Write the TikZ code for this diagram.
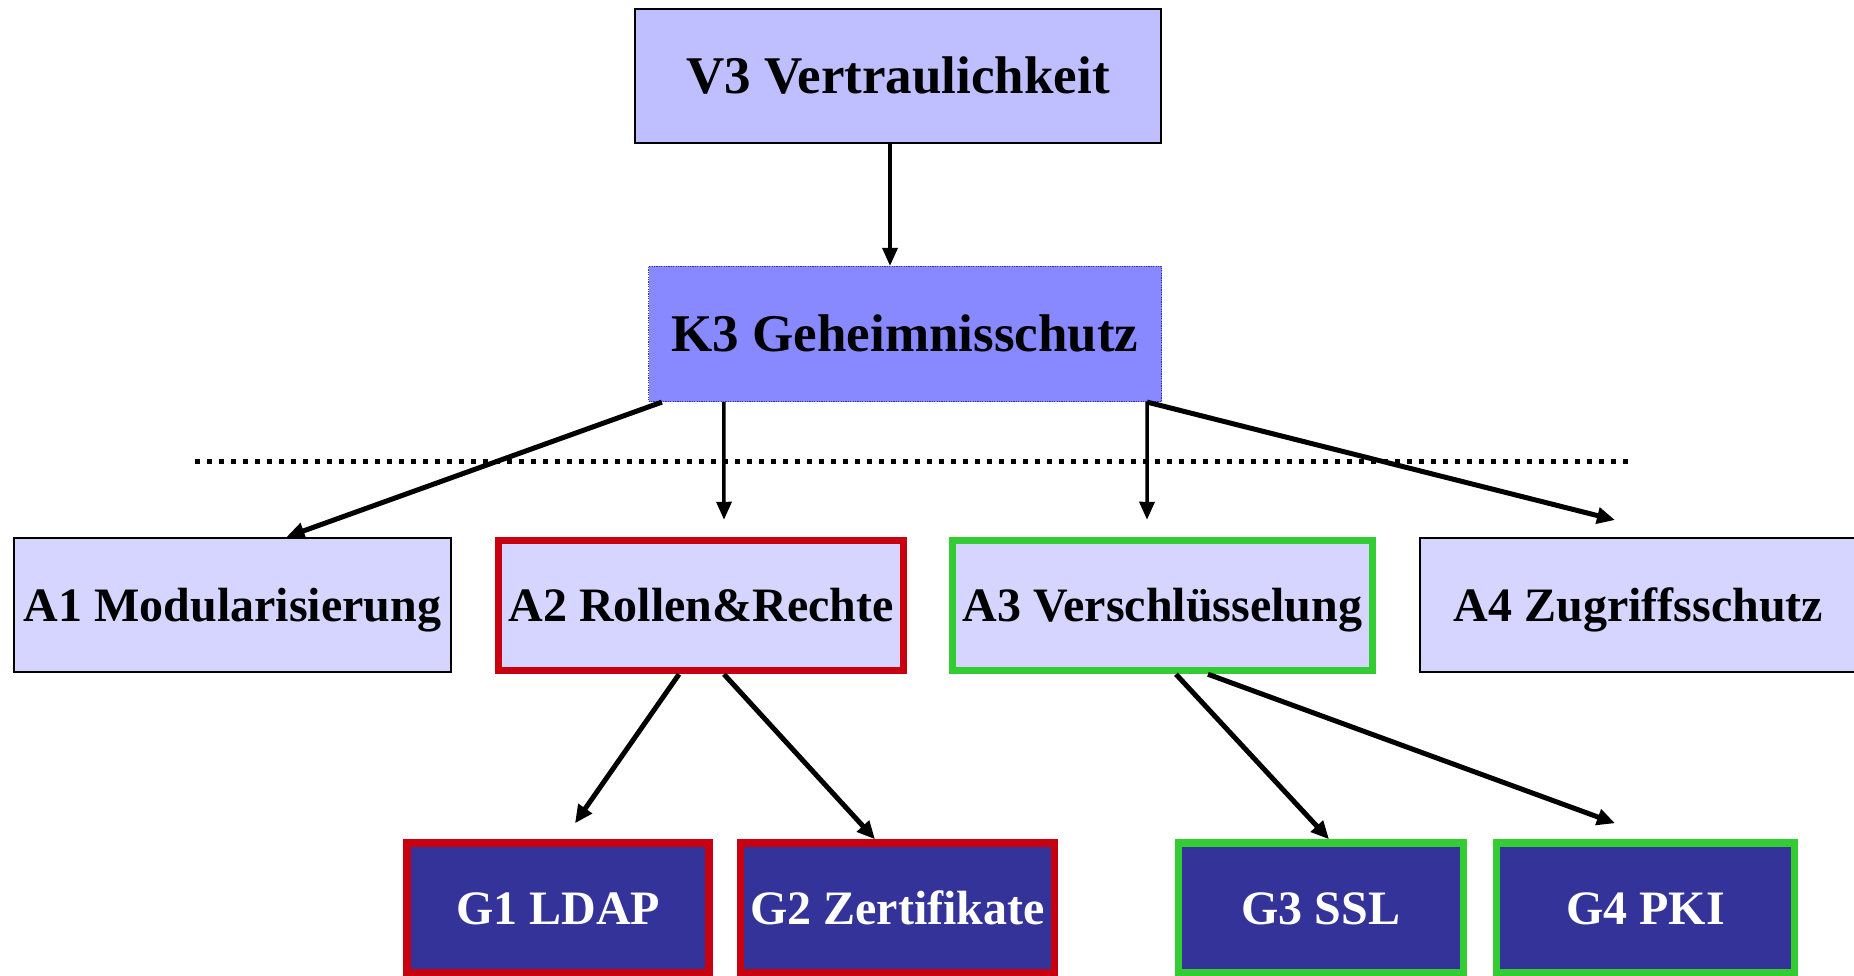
\documentclass[tikz,border=0pt]{standalone}
\usepackage{fontspec}
\setmainfont{Liberation Serif}
\usetikzlibrary{arrows.meta}

\definecolor{boxtop}{HTML}{BFBFFF}
\definecolor{boxmid}{HTML}{8888FF}
\definecolor{boxlight}{HTML}{D5D5FF}
\definecolor{boxdark}{HTML}{333399}
\definecolor{rimred}{HTML}{C8000F}
\definecolor{rimgreen}{HTML}{33CC33}

\begin{document}
\begin{tikzpicture}[x=1pt,y=-1pt,
  box/.style={rectangle, inner sep=0pt, align=center,
    font=\fontsize{48}{50}\selectfont\bfseries, text height=32pt, text depth=0pt},
  bigbox/.style={box, font=\fontsize{53}{55}\selectfont\bfseries, text height=35pt},
  plainbox/.style={box, fill=boxlight, draw=black, line width=2pt,
    minimum width=437pt, minimum height=134pt},
  redbox/.style={draw=rimred, line width=7.5pt, minimum height=130pt},
  greenbox/.style={draw=rimgreen, line width=7.5pt, minimum height=130pt},
  lightbox/.style={box, fill=boxlight},
  darkbox/.style={box, fill=boxdark, text=white, minimum height=134pt},
  link/.style={draw=black, line width=5pt, -{Triangle[length=18pt,width=16pt]}},
  thinlink/.style={draw=black, line width=3.5pt, -{Triangle[length=18pt,width=15pt]}}
]
\useasboundingbox (0,0) rectangle (1854,976);
\fill[white] (0,0) rectangle (1854,976);

% top levels
\node[bigbox, fill=boxtop, draw=black, line width=1.8pt,
  minimum width=526pt, minimum height=134pt] (V3) at (898,76) {V3 Vertraulichkeit};
\node[bigbox, fill=boxmid, draw=boxdark, line width=1.2pt,
  dash pattern=on 1.2pt off 1.2pt,
  minimum width=513pt, minimum height=135pt] (K3) at (905,334) {K3 Geheimnisschutz};

% separator between the levels
\coordinate (sepL) at (195,461);
\coordinate (sepR) at (1629,461);
\draw[line width=5pt, dash pattern=on 5pt off 7pt] (sepL) -- (sepR);

% measures
\node[plainbox] (A1) at (232.5,605) {A1 Modularisierung};
\node[lightbox, redbox, minimum width=405pt] (A2) at (701,605.5) {A2 Rollen\&Rechte};
\node[lightbox, greenbox, minimum width=420pt] (A3) at (1162.5,605.5) {A3 Verschlüsselung};
\node[plainbox] (A4) at (1638.5,605) {A4 Zugriffsschutz};

% building blocks
\node[darkbox, redbox, minimum width=302pt] (G1) at (558,908) {G1 LDAP};
\node[darkbox, redbox, minimum width=314pt] (G2) at (897.5,908) {G2 Zertifikate};
\node[darkbox, greenbox, minimum width=285pt] (G3) at (1321,908) {G3 SSL};
\node[darkbox, greenbox, minimum width=298pt] (G4) at (1645.5,908) {G4 PKI};

% connectors
\draw[thinlink] ([xshift=-8pt]V3.south) -- ([xshift=-15pt]K3.north);
\draw[link] ([xshift=14pt]K3.south west) -- ([xshift=54pt]A1.north);
\draw[thinlink] ([xshift=76pt]K3.south west) -- ([xshift=23pt,yshift=17pt]A2.north);
\draw[thinlink] ([xshift=-15pt]K3.south east) -- ([xshift=-15.5pt,yshift=17pt]A3.north);
\draw[link] ([xshift=-15pt]K3.south east) -- ([xshift=-23.5pt,yshift=17pt]A4.north);
\draw[link] ([xshift=-22pt]A2.south) -- ([xshift=17pt,yshift=16pt]G1.north);
\draw[link] ([xshift=23pt]A2.south) -- ([xshift=-22.5pt]G2.north);
\draw[link] ([xshift=13.5pt]A3.south) -- ([xshift=8pt]G3.north);
\draw[link] ([xshift=45.5pt]A3.south) -- ([xshift=-30.5pt,yshift=16pt]G4.north);
\end{tikzpicture}
\end{document}
